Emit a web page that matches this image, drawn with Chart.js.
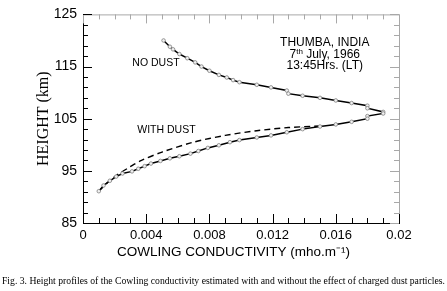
<!DOCTYPE html>
<html>
<head>
<meta charset="utf-8">
<script src="https://cdn.jsdelivr.net/npm/chart.js@4.4.1/dist/chart.umd.min.js"></script>
<style>
    body { margin: 0; background: #fff; }
    #wrap { position: relative; width: 447px; height: 291px; overflow: hidden; }
    #caption {
        position: absolute; left: 0; top: 275px; width: 447px; text-align: center;
        font-family: "Liberation Serif", "Times New Roman", serif; font-size: 9.7px; color: #000;
        white-space: nowrap;
    }
</style>
</head>
<body>
<div id="wrap">
    <canvas id="cowling_chart" width="447" height="291"></canvas>
    <div id="caption">Fig. 3. Height profiles of the Cowling conductivity estimated with and without the effect of charged dust particles.</div>
</div>
<script>
// solid curve (no dust), read from top to bottom
const noDustCond = [
    0.0051, 0.0055, 0.0057, 0.0061, 0.0066, 0.0071, 0.0075, 0.0080, 0.0086, 0.0091,
    0.0095, 0.0099, 0.0110, 0.0119, 0.0129, 0.0130, 0.0139, 0.0150, 0.0160, 0.0170,
    0.0180, 0.0180, 0.0190, 0.0190, 0.0180, 0.0180, 0.0170, 0.0160, 0.0150, 0.0139,
    0.0129, 0.0119, 0.0110, 0.0099, 0.0093, 0.0086, 0.0079, 0.0073, 0.0068, 0.0061,
    0.0055, 0.0049, 0.0043, 0.0039, 0.0035, 0.0031, 0.0025, 0.0021, 0.0017, 0.0013,
    0.0010
];
const noDustHeight = [
    120.0, 118.8, 118.3, 117.4, 116.6, 115.8, 115.0, 114.2, 113.4, 112.9,
    112.4, 112.0, 111.5, 111.0, 110.4, 109.8, 109.4, 109.0, 108.5, 108.0,
    107.5, 107.0, 106.3, 106.0, 105.5, 105.0, 104.4, 103.9, 103.5, 103.0,
    102.4, 101.8, 101.4, 100.9, 100.5, 99.9, 99.4, 98.8, 98.3, 97.8,
    97.4, 96.9, 96.4, 95.9, 95.4, 94.9, 94.5, 93.9, 93.1, 92.2,
    91.1
];
// dashed curve (with dust)
const dustCond = [0.0010, 0.0015, 0.0021, 0.0030, 0.0037, 0.0050, 0.0070, 0.0090, 0.0110, 0.0130, 0.0150];
const dustHeight = [91.1, 92.6, 94.1, 95.8, 97.0, 98.6, 100.5, 101.8, 102.7, 103.3, 103.6];

const xTickLabels = ["0", "0.004", "0.008", "0.012", "0.016", "0.02"];
const yTickLabels = ["85", "95", "105", "115", "125"];

const notes = [
    { text: "NO DUST", x: 0.00462, y: 115.7 },
    { text: "WITH DUST", x: 0.00528, y: 102.8 },
    { text: "THUMBA, INDIA", x: 0.0153, y: 119.57 },
    { text: "7|th| July, 1966", x: 0.0153, y: 117.29 },
    { text: "13:45Hrs. (LT)", x: 0.0153, y: 115.1 }
];

const toPoints = (xs, ys) => xs.map((x, i) => ({ x: x, y: ys[i] }));

// inward ticks on all four sides + annotations
const frameTicks = {
    id: "frameTicks",
    afterDraw(chart) {
        const { ctx, chartArea: a, scales: { x, y } } = chart;
        ctx.save();
        // top / right frame in grey
        ctx.strokeStyle = "#a8a8a8";
        ctx.lineWidth = 1;
        ctx.beginPath();
        ctx.moveTo(a.left, a.top + 0.5); ctx.lineTo(a.right + 0.5, a.top + 0.5);
        ctx.lineTo(a.right + 0.5, a.bottom);
        ctx.stroke();

        for (let i = 0; i <= 20; i++) {
            const v = i * 0.001;
            const px = Math.round(x.getPixelForValue(v)) + 0.5;
            const len = i % 4 === 0 ? 9 : 5;
            ctx.strokeStyle = "#000";
            ctx.beginPath(); ctx.moveTo(px, a.bottom); ctx.lineTo(px, a.bottom - len); ctx.stroke();
            ctx.strokeStyle = "#a8a8a8";
            ctx.beginPath(); ctx.moveTo(px, a.top); ctx.lineTo(px, a.top + len); ctx.stroke();
        }
        for (let h = 85; h <= 125; h += 2) {
            const py = Math.round(y.getPixelForValue(h)) + 0.5;
            const len = (h - 85) % 10 === 0 ? 9 : 5;
            ctx.strokeStyle = "#000";
            ctx.beginPath(); ctx.moveTo(a.left, py); ctx.lineTo(a.left + len, py); ctx.stroke();
            ctx.strokeStyle = "#a8a8a8";
            ctx.beginPath(); ctx.moveTo(a.right, py); ctx.lineTo(a.right - len, py); ctx.stroke();
        }
        for (const h of [95, 105, 115]) {
            const py = Math.round(y.getPixelForValue(h)) + 0.5;
            ctx.strokeStyle = "#a8a8a8";
            ctx.beginPath(); ctx.moveTo(a.right, py); ctx.lineTo(a.right - 9, py); ctx.stroke();
        }

        // annotations
        ctx.fillStyle = "#000";
        ctx.textBaseline = "middle";
        notes.forEach((n, i) => {
            const cx = x.getPixelForValue(n.x);
            const cy = y.getPixelForValue(n.y);
            const size = i < 2 ? 10.5 : 12;
            const parts = n.text.split("|");
            const fonts = parts.map((p, k) => (k === 1 ? 8 : size) + "px 'Liberation Sans', Arial, sans-serif");
            let total = 0;
            const widths = parts.map((p, k) => { ctx.font = fonts[k]; const w = ctx.measureText(p).width; total += w; return w; });
            let sx = cx - total / 2;
            ctx.textAlign = "left";
            parts.forEach((p, k) => {
                ctx.font = fonts[k];
                ctx.fillText(p, sx, k === 1 ? cy - 3 : cy);
                sx += widths[k];
            });
        });
        ctx.restore();
    }
};

const ctx = document.getElementById("cowling_chart").getContext("2d");
new Chart(ctx, {
    type: "scatter",
    data: {
        datasets: [
            {
                label: "No dust",
                data: toPoints(noDustCond, noDustHeight),
                showLine: true,
                borderColor: "#000",
                borderWidth: 1.5,
                pointRadius: 1.8,
                pointBorderWidth: 0.8,
                pointBorderColor: "#808080",
                pointBackgroundColor: "#f0f0f0",
                tension: 0
            },
            {
                label: "With dust",
                data: toPoints(dustCond, dustHeight),
                showLine: true,
                borderColor: "#000",
                borderWidth: 1.4,
                borderDash: [6, 4],
                pointRadius: 0,
                tension: 0.3
            }
        ]
    },
    options: {
        responsive: false,
        animation: false,
        devicePixelRatio: 1,
        layout: { padding: { top: 13, right: 48, left: 0, bottom: 0 } },
        plugins: { legend: { display: false }, tooltip: { enabled: false } },
        scales: {
            x: {
                type: "linear", min: 0, max: 0.02,
                afterFit: (s) => { s.height = 68; },
                grid: { drawOnChartArea: false, drawTicks: false },
                border: { color: "#000", width: 1 },
                ticks: {
                    stepSize: 0.004, padding: 5, color: "#000", maxRotation: 0,
                    font: { family: "'Liberation Sans', Arial, sans-serif", size: 13 },
                    callback: (v) => xTickLabels[Math.round(v / 0.004)]
                },
                title: {
                    display: true, text: "COWLING CONDUCTIVITY (mho.m\u207B\u00B9)    ", color: "#000",
                    font: { family: "'Liberation Sans', Arial, sans-serif", size: 13.5 },
                    padding: { top: 0, bottom: 30.6 }
                }
            },
            y: {
                min: 85, max: 125,
                afterFit: (s) => { s.width = 83; },
                grid: { drawOnChartArea: false, drawTicks: false },
                border: { color: "#000", width: 1 },
                ticks: {
                    stepSize: 10, padding: 6, color: "#000",
                    font: { family: "'Liberation Sans', Arial, sans-serif", size: 14 },
                    callback: (v) => yTickLabels[Math.round((v - 85) / 10)]
                },
                title: {
                    display: true, text: "HEIGHT (km)", color: "#000",
                    font: { family: "'Liberation Serif', 'Times New Roman', serif", size: 16 },
                    padding: { top: 34.4, bottom: 0 }
                }
            }
        }
    },
    plugins: [frameTicks]
});
</script>
</body>
</html>
